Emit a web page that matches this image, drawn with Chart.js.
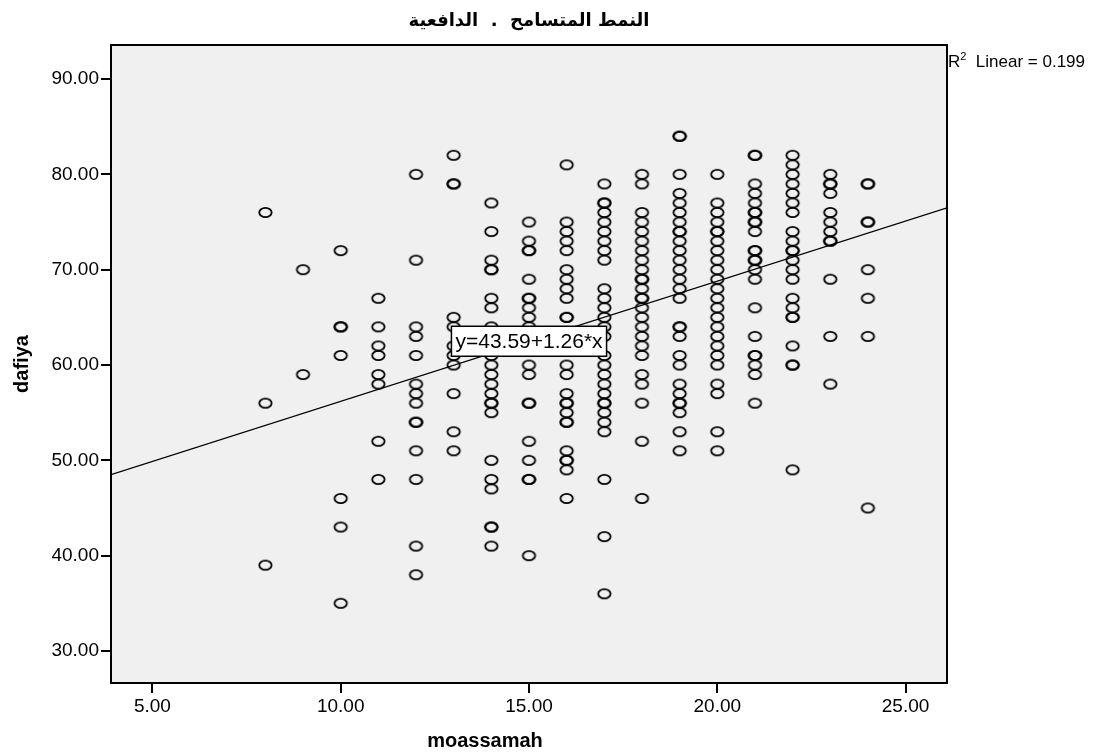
<!DOCTYPE html>
<html>
<head>
<meta charset="utf-8">
<script src="https://cdn.jsdelivr.net/npm/chart.js@4"></script>
<style>
    html, body { margin: 0; padding: 0; background: #fff; }
    #wrap { width: 1103px; height: 753px; }
</style>
</head>
<body>
<div id="wrap"><canvas id="chart" width="1103" height="753"></canvas></div>
<script>
// x groups (moassamah) and the dafiya scores
const moassamah = [8, 9, 10, 11, 12, 13, 14, 15, 16, 17, 18, 19, 20, 21, 22, 23, 24];
const dafiya = [
    [76, 56, 39],
    [70, 59],
    [72, 64, 64, 61, 46, 43, 35],
    [67, 64, 62, 61, 59, 58, 52, 48],
    [80, 71, 64, 63, 61, 58, 57, 56, 54, 54, 51, 48, 41, 38],
    [82, 79, 79, 65, 64, 62, 61, 60, 57, 53, 51],
    [77, 74, 71, 70, 70, 67, 66, 64, 63, 61, 60, 59, 58, 57, 56, 56, 55, 50, 48, 47, 43, 43, 41],
    [75, 73, 72, 72, 69, 67, 67, 66, 65, 64, 62, 60, 59, 56, 56, 52, 50, 48, 48, 40],
    [81, 75, 74, 73, 72, 70, 69, 68, 67, 65, 65, 62, 60, 59, 57, 56, 56, 55, 54, 54, 51, 50, 50, 49, 46],
    [79, 77, 77, 76, 75, 74, 73, 72, 71, 68, 67, 66, 65, 64, 63, 61, 60, 59, 58, 57, 56, 56, 55, 54, 53, 48, 42, 36],
    [80, 79, 76, 75, 74, 73, 72, 71, 70, 69, 69, 68, 67, 67, 66, 65, 64, 63, 62, 61, 59, 58, 56, 52, 46],
    [84, 84, 80, 78, 77, 76, 75, 74, 74, 73, 72, 71, 70, 69, 68, 67, 64, 64, 63, 61, 60, 58, 57, 56, 56, 55, 53, 51],
    [80, 77, 76, 75, 74, 74, 73, 72, 71, 70, 69, 68, 67, 66, 65, 64, 63, 62, 61, 60, 58, 57, 53, 51],
    [82, 82, 79, 78, 77, 76, 76, 75, 75, 74, 72, 72, 71, 71, 70, 69, 66, 63, 61, 61, 60, 59, 56],
    [82, 81, 80, 79, 78, 77, 76, 74, 73, 72, 72, 71, 70, 69, 67, 66, 65, 65, 62, 60, 60, 49],
    [80, 79, 79, 78, 76, 75, 74, 73, 73, 69, 63, 58],
    [79, 79, 75, 75, 70, 67, 63, 45]
];

const xTicks = [5, 10, 15, 20, 25];
const yTicks = [30, 40, 50, 60, 70, 80, 90];

// linear fit reported by SPSS
const intercept = 43.59;
const slope = 1.26;
const rSquared = 0.199;
const labelAtX = 15;

const xMin = 3.9, xMax = 26.1;
const yMin = 26.64, yMax = 93.57;

const chartTitle = 'النمط المتسامح  .  الدافعية';
const xTitle = 'moassamah';
const FONT = '"Liberation Sans", Arial, sans-serif';

const points = [];
moassamah.forEach((x, i) => {
    dafiya[i].forEach(y => points.push({ x: x, y: y }));
});

// open ellipse marker like SPSS
const marker = document.createElement('canvas');
marker.width = 17;
marker.height = 13;
(function () {
    const c = marker.getContext('2d');
    c.strokeStyle = '#000';
    c.lineWidth = 1.8;
    c.beginPath();
    c.ellipse(8.5, 6.5, 6.2, 4.6, 0, 0, Math.PI * 2);
    c.stroke();
})();

const frame = {
    id: 'frame',
    beforeDatasetsDraw(chart) {
        const { ctx, chartArea: a } = chart;
        ctx.save();
        ctx.fillStyle = '#f0f0f0';
        ctx.fillRect(a.left, a.top, a.right - a.left, a.bottom - a.top);
        ctx.restore();
    },
    afterDatasetsDraw(chart) {
        const { ctx, chartArea: a, scales } = chart;
        ctx.save();
        ctx.strokeStyle = '#000';
        ctx.lineWidth = 2;
        ctx.strokeRect(a.left, a.top, a.right - a.left, a.bottom - a.top);

        // equation box
        const px = scales.x.getPixelForValue(labelAtX);
        const py = scales.y.getPixelForValue(intercept + slope * labelAtX);
        const text = 'y=' + intercept.toFixed(2) + '+' + slope.toFixed(2) + '*x';
        ctx.font = '21px ' + FONT;
        const w = ctx.measureText(text).width + 8;
        const h = 30;
        ctx.fillStyle = '#fff';
        ctx.fillRect(px - w / 2, py - h / 2, w, h);
        ctx.lineWidth = 1.5;
        ctx.strokeRect(px - w / 2, py - h / 2, w, h);
        ctx.fillStyle = '#000';
        ctx.textAlign = 'center';
        ctx.textBaseline = 'middle';
        ctx.fillText(text, px, py + 1);

        // title
        ctx.font = 'bold 18px "DejaVu Sans", sans-serif';
        ctx.direction = 'rtl';
        ctx.fillText(chartTitle, (a.left + a.right) / 2, 21);
        ctx.direction = 'ltr';

        // x axis title (SPSS puts it a bit left of centre)
        ctx.font = 'bold 20px ' + FONT;
        ctx.fillText(xTitle, 485, 741);

        // R squared note
        ctx.textAlign = 'left';
        ctx.font = '17px ' + FONT;
        let x0 = a.right + 1;
        ctx.fillText('R', x0, 62);
        x0 += ctx.measureText('R').width;
        ctx.font = '11px ' + FONT;
        ctx.fillText('2', x0, 57);
        x0 += ctx.measureText('2').width;
        ctx.font = '17px ' + FONT;
        ctx.fillText('  Linear = ' + rSquared.toFixed(3), x0, 62);
        ctx.restore();
    }
};

new Chart(document.getElementById('chart'), {
    type: 'scatter',
    data: {
        datasets: [
            {
                label: 'dafiya',
                data: points,
                pointStyle: marker,
                pointRadius: 5,
                order: 2
            },
            {
                label: 'fit',
                data: [
                    { x: xMin, y: intercept + slope * xMin },
                    { x: xMax, y: intercept + slope * xMax }
                ],
                showLine: true,
                borderColor: '#000',
                borderWidth: 1.2,
                pointRadius: 0,
                order: 1
            }
        ]
    },
    options: {
        responsive: false,
        animation: false,
        layout: { padding: { left: 0, right: 156, top: 45, bottom: 0 } },
        plugins: {
            legend: { display: false },
            title: { display: false },
            tooltip: { enabled: false }
        },
        scales: {
            x: {
                type: 'linear',
                min: xMin,
                max: xMax,
                afterBuildTicks: s => { s.ticks = xTicks.map(v => ({ value: v })); },
                afterFit: s => { s.height = 70; },
                ticks: {
                    callback: v => Number(v).toFixed(2),
                    color: '#000',
                    font: { family: FONT, size: 19 },
                    padding: 2,
                    maxRotation: 0,
                    autoSkip: false
                },
                grid: { drawOnChartArea: false, drawTicks: true, tickLength: 10, color: '#000', lineWidth: 2 },
                border: { display: false }
            },
            y: {
                type: 'linear',
                min: yMin,
                max: yMax,
                afterBuildTicks: s => { s.ticks = yTicks.map(v => ({ value: v })); },
                afterFit: s => { s.width = 111; },
                ticks: {
                    callback: v => Number(v).toFixed(2),
                    color: '#000',
                    font: { family: FONT, size: 19 },
                    padding: 2
                },
                grid: { drawOnChartArea: false, drawTicks: true, tickLength: 10, color: '#000', lineWidth: 2 },
                border: { display: false },
                title: {
                    display: true,
                    text: 'dafiya',
                    color: '#000',
                    font: { family: FONT, size: 20, weight: 'bold' },
                    padding: 10
                }
            }
        }
    },
    plugins: [frame]
});
</script>
</body>
</html>
